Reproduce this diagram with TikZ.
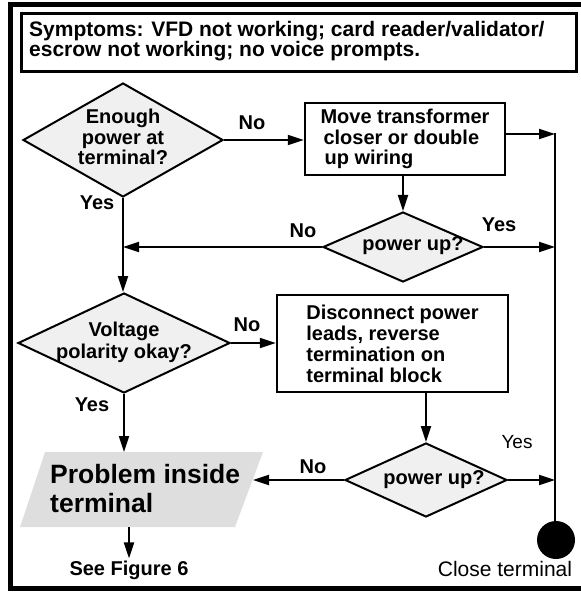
\documentclass[tikz,border=0pt]{standalone}
\usepackage{fontspec}
\setmainfont{Liberation Sans}
\usetikzlibrary{shapes.geometric,arrows.meta}
\begin{document}
\begin{tikzpicture}[x=1pt,y=-1pt,
  bf/.style={font=\fontsize{20}{20.5}\selectfont\bfseries},
  txt/.style={bf,inner sep=0pt,align=center},
  dia/.style={diamond,draw,line width=2pt,fill=black!6,inner sep=0pt,aspect=2},
  proc/.style={draw,line width=2.5pt,inner sep=0pt,align=left,bf},
  lbl/.style={bf,inner sep=0pt},
  arr/.style={line width=2pt,-{Triangle[length=16pt,width=10pt]}},
  ln/.style={line width=2pt}]
\useasboundingbox (0,0) rectangle (580,593);
% outer frame
\draw[line width=5pt] (10.5,5) rectangle (595,588);
% symptoms box
\node[draw,line width=3pt,minimum width=554.5pt,minimum height=58pt,inner sep=0pt] (symbox) at (298.75,42.5) {};
\node[anchor=west,inner sep=0pt,align=left,font=\fontsize{21}{20}\selectfont\bfseries] (symtext) at (29,41.5)
  {Symptoms: VFD not working; card reader/validator/\\escrow not working; no voice prompts.};
% diamonds
\node[dia,minimum width=200pt,minimum height=114pt] (d1) at (123,140) {};
\node[txt] (t1) at (123,137) {Enough\\power at\\terminal?};
\node[dia,minimum width=160pt,minimum height=70pt] (d2) at (403,247) {};
\node[txt] (t2) at (413,246) {power up?};
\node[dia,minimum width=212pt,minimum height=100pt] (d3) at (124,343) {};
\node[txt,font=\fontsize{20}{22}\selectfont\bfseries] (t3) at (124,342) {Voltage\\polarity okay?};
\node[dia,minimum width=162pt,minimum height=74pt] (d4) at (426,480) {};
\node[txt] (t4) at (434,480) {power up?};
% process boxes
\node[proc,minimum width=200pt,minimum height=72pt] (b1) at (405,139)
  {Move transformer\\\hspace*{3pt}closer or double\\\hspace*{4pt}up wiring};
\node[proc,minimum width=231pt,minimum height=97pt,font=\fontsize{20}{21}\selectfont\bfseries] (b2) at (392.5,343.5)
  {Disconnect power\\leads, reverse\\termination on\\terminal block};
% problem parallelogram
\coordinate (pTL) at (45,452);
\coordinate (pTR) at (263,452);
\coordinate (pBR) at (235,527);
\coordinate (pBL) at (20,527);
\fill[black!13] (pTL) -- (pTR) -- (pBR) -- (pBL) -- cycle;
\node[anchor=west,inner sep=0pt,align=left,font=\fontsize{26.5}{29}\selectfont\bfseries] (probtext) at (50,489)
  {Problem inside\\terminal};
\coordinate (probR) at (253,480);
% end node
\node[circle,fill=black,minimum size=38pt,inner sep=0pt] (endc) at (556,540) {};
\coordinate (rtop) at (555,133);
\node[inner sep=0pt,font=\fontsize{21}{21}\selectfont] (close) at (505,569) {Close terminal};
\node[lbl] (seefig) at (129,570) {See Figure 6};
% connectors
\draw[arr] (d1.east) -- (d1.east -| b1.west);
\draw[arr] ([yshift=5pt]b1.east) -- ([yshift=5pt]b1.east -| rtop);
\draw[ln] (rtop) -- (rtop |- endc.north);
\draw[arr] (b1.south -| d2.north) -- (d2.north);
\draw[arr] (d2.east) -- (d2.east -| rtop);
\draw[arr] (d2.west) -- (d2.west -| d1.south);
\draw[arr] (d1.south) -- (d1.south |- d3.north);
\draw[arr] (d3.east) -- (d3.east -| b2.west);
\draw[arr] (b2.south -| d4.north) -- (d4.north);
\draw[arr] (d4.east) -- (d4.east -| rtop);
\draw[arr] (d4.west) -- (probR);
\draw[arr] (d3.south) -- (d3.south |- pTL);
\draw[arr] (seefig.north |- pBL) -- ([yshift=2pt]seefig.north);
% labels
\node[lbl] (l1) at (252,123) {No};
\node[lbl] (l2) at (97,203) {Yes};
\node[lbl] (l3) at (303,231) {No};
\node[lbl] (l4) at (499,225) {Yes};
\node[lbl] (l5) at (247,325) {No};
\node[lbl] (l6) at (92,405) {Yes};
\node[lbl] (l7) at (313,467) {No};
\node[inner sep=0pt,font=\fontsize{19}{19}\selectfont] (l8) at (517,442) {Yes};
\end{tikzpicture}
\end{document}
